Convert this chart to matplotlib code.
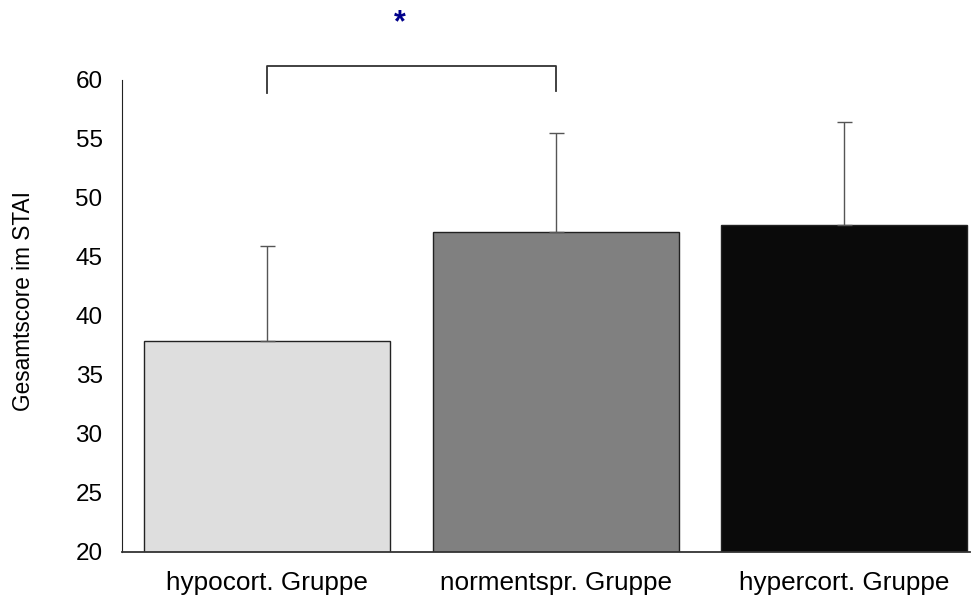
import numpy as np
from matplotlib import pyplot as plt

plt.rcParams['font.family'] = ['Liberation Sans', 'DejaVu Sans']

groups = ['hypocort. Gruppe', 'normentspr. Gruppe', 'hypercort. Gruppe']
means = [37.9, 47.1, 47.7]
sd = [8.0, 8.4, 8.7]
colors = ['#dedede', '#808080', '#0a0a0a']

fig = plt.figure(figsize=(9.8, 5.97), dpi=100)
ax = fig.add_axes([0.1245, 0.0754, 0.8655, 0.7906])

x = np.arange(len(groups))
ax.bar(x, means, width=0.853, color=colors, edgecolor='#222222', linewidth=1.0,
       bottom=0, zorder=2)
ax.errorbar(x, means, yerr=[np.zeros(len(sd)), sd], fmt='none', ecolor='#555555',
            elinewidth=1.0, capsize=5.4, capthick=1.0, zorder=3)

# significance bracket
ax.plot([0, 0, 1, 1], [58.9, 61.2, 61.2, 59.1], color='#333333', lw=1.3,
        clip_on=False)
ax.text(0.46, 64.8, '*', color='#00008b', fontsize=22, ha='center', va='center',
        fontweight='bold', clip_on=False)

ax.set_ylim(20, 60)
ax.set_xlim(-0.503, 2.437)
ax.set_yticks(range(20, 61, 5))
ax.set_xticks(x)
ax.set_xticklabels(groups)
ax.tick_params(length=0)
ax.tick_params(axis='x', labelsize=18.8, pad=14)
ax.tick_params(axis='y', labelsize=17.5, pad=14)
ax.set_ylabel('Gesamtscore im STAI', fontsize=16.3)
ax.yaxis.set_label_coords(-0.103, 0.532)

for s in ['top', 'right']:
    ax.spines[s].set_visible(False)
ax.spines['left'].set_color('#222222')
ax.spines['bottom'].set_color('#333333')
ax.spines['bottom'].set_linewidth(1.3)

fig.savefig('out.png', dpi=100)
